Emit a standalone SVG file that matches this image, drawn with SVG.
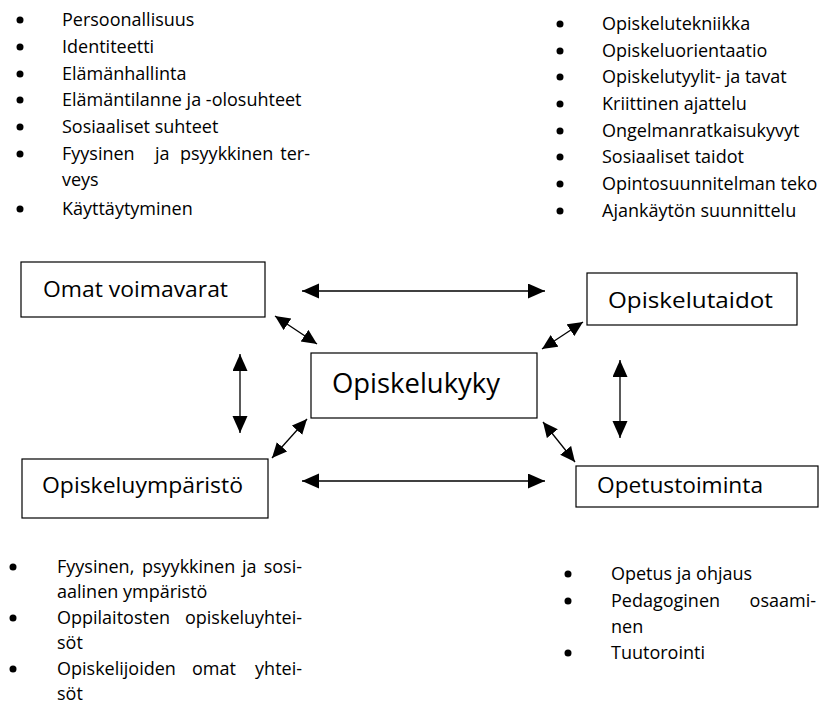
<svg xmlns="http://www.w3.org/2000/svg" width="826" height="706" viewBox="0 0 826 706">
<style>
.t{font-family:"Open Sans","Liberation Sans",sans-serif;font-size:18px;fill:#000}
.e{text-anchor:end}
.b{font-family:"Open Sans","Liberation Sans",sans-serif;font-size:22px;fill:#000}
.c{font-family:"Open Sans","Liberation Sans",sans-serif;font-size:27.5px;fill:#000}
.box{fill:#fff;stroke:#000;stroke-width:1.2}
.ln{stroke:#000;stroke-width:1.3;fill:none}
.big{marker-start:url(#hb);marker-end:url(#hb)}
.sm{marker-start:url(#hs);marker-end:url(#hs)}
</style>
<defs>
<marker id="hb" markerUnits="userSpaceOnUse" markerWidth="18" markerHeight="16" refX="17" refY="7.5" orient="auto-start-reverse"><path d="M0,0 L17,7.5 L0,15 z" fill="#000"/></marker>
<marker id="hs" markerUnits="userSpaceOnUse" markerWidth="17" markerHeight="15" refX="15" refY="7" orient="auto-start-reverse"><path d="M0,0 L15,7 L0,14 z" fill="#000"/></marker>
</defs>
<rect width="826" height="706" fill="#fff"/>

<g id="list-omat" fill="#000">
<circle cx="20" cy="20" r="3.5"/><text class="t" x="62" y="26">Persoonallisuus</text>
<circle cx="20" cy="47" r="3.5"/><text class="t" x="62" y="53">Identiteetti</text>
<circle cx="20" cy="74" r="3.5"/><text class="t" x="62" y="80">Elämänhallinta</text>
<circle cx="20" cy="100" r="3.5"/><text class="t" x="62" y="106">Elämäntilanne ja -olosuhteet</text>
<circle cx="20" cy="127" r="3.5"/><text class="t" x="62" y="133">Sosiaaliset suhteet</text>
<circle cx="20" cy="154" r="3.5"/><text class="t" y="160"><tspan x="62">Fyysinen</tspan><tspan x="155">ja</tspan><tspan x="180">psyykkinen</tspan></text><text class="t e" x="310" y="160">ter-</text>
<text class="t" x="62" y="186">veys</text>
<circle cx="20" cy="209" r="3.5"/><text class="t" x="62" y="215">Käyttäytyminen</text>
</g>

<g id="list-taidot" fill="#000">
<circle cx="560" cy="24" r="3.5"/><text class="t" x="602" y="30">Opiskelutekniikka</text>
<circle cx="560" cy="51" r="3.5"/><text class="t" x="602" y="57">Opiskeluorientaatio</text>
<circle cx="560" cy="77" r="3.5"/><text class="t" x="602" y="83">Opiskelutyylit- ja tavat</text>
<circle cx="560" cy="104" r="3.5"/><text class="t" x="602" y="110">Kriittinen ajattelu</text>
<circle cx="560" cy="131" r="3.5"/><text class="t" x="602" y="137">Ongelmanratkaisukyvyt</text>
<circle cx="560" cy="157" r="3.5"/><text class="t" x="602" y="163">Sosiaaliset taidot</text>
<circle cx="560" cy="184" r="3.5"/><text class="t" x="602" y="190">Opintosuunnitelman teko</text>
<circle cx="560" cy="211" r="3.5"/><text class="t" x="602" y="217">Ajankäytön suunnittelu</text>
</g>

<g id="list-ymparisto" fill="#000">
<circle cx="13" cy="567" r="3.5"/><text class="t" y="573"><tspan x="57">Fyysinen,</tspan><tspan x="142">psyykkinen</tspan><tspan x="242">ja</tspan></text><text class="t e" x="302" y="573">sosi-</text>
<text class="t" x="57" y="598">aalinen ympäristö</text>
<circle cx="13" cy="618" r="3.5"/><text class="t" x="57" y="624">Oppilaitosten</text><text class="t e" x="302" y="624">opiskeluyhtei-</text>
<text class="t" x="57" y="649">söt</text>
<circle cx="13" cy="669" r="3.5"/><text class="t" x="57" y="675">Opiskelijoiden</text><text class="t" x="192" y="675">omat</text><text class="t e" x="302" y="675">yhtei-</text>
<text class="t" x="57" y="700">söt</text>
</g>

<g id="list-opetus" fill="#000">
<circle cx="568" cy="574" r="3.5"/><text class="t" x="611" y="580">Opetus ja ohjaus</text>
<circle cx="568" cy="601" r="3.5"/><text class="t" x="611" y="607">Pedagoginen</text><text class="t e" x="816" y="607">osaami-</text>
<text class="t" x="611" y="633">nen</text>
<circle cx="568" cy="653" r="3.5"/><text class="t" x="611" y="659">Tuutorointi</text>
</g>

<g id="connectors">
<line class="ln big" x1="302" y1="291" x2="545" y2="291"/>
<line class="ln big" x1="302" y1="481" x2="545" y2="481"/>
<line class="ln big" x1="240" y1="354" x2="240" y2="433"/>
<line class="ln big" x1="620" y1="360" x2="620" y2="438"/>
<line class="ln sm" x1="275" y1="316" x2="317" y2="344"/>
<line class="ln sm" x1="272" y1="458" x2="307" y2="419"/>
<line class="ln sm" x1="542" y1="349" x2="583" y2="322"/>
<line class="ln sm" x1="543" y1="422" x2="575" y2="462"/>
</g>

<g id="node-omat">
<rect class="box" x="21" y="262" width="244" height="55"/>
<text class="b" x="43" y="297" textLength="185" lengthAdjust="spacingAndGlyphs">Omat voimavarat</text>
</g>
<g id="node-opiskelukyky">
<rect class="box" x="311" y="353" width="226" height="65"/>
<text class="c" x="332" y="393" textLength="168" lengthAdjust="spacingAndGlyphs">Opiskelukyky</text>
</g>
<g id="node-taidot">
<rect class="box" x="587" y="273" width="210" height="52"/>
<text class="b" x="608" y="308" textLength="165" lengthAdjust="spacingAndGlyphs">Opiskelutaidot</text>
</g>
<g id="node-ymparisto">
<rect class="box" x="22" y="459" width="246" height="59"/>
<text class="b" x="42" y="493" textLength="201" lengthAdjust="spacingAndGlyphs">Opiskeluympäristö</text>
</g>
<g id="node-opetus">
<rect class="box" x="576" y="466" width="242" height="41"/>
<text class="b" x="597" y="493" textLength="166" lengthAdjust="spacingAndGlyphs">Opetustoiminta</text>
</g>
</svg>
